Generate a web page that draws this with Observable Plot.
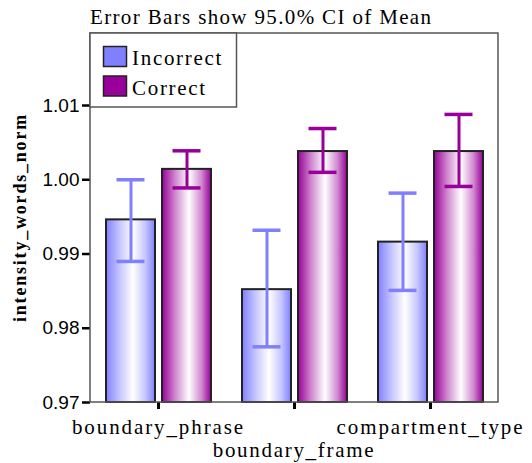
<!DOCTYPE html>
<html><head><meta charset="utf-8">
<script src="https://cdn.jsdelivr.net/npm/d3@7"></script>
<script src="https://cdn.jsdelivr.net/npm/@observablehq/plot@0.6"></script>
<style>
body{margin:0;background:#fff;}
#wrap{width:532px;height:463px;overflow:hidden;}
</style></head><body><div id="wrap"></div>
<script>
const categories = ["boundary_phrase", "compartment_phrase", "compartment_type"];
const tickLabels = ["boundary_phrase", "", "compartment_type"];
const series = ["Incorrect", "Correct"];
const seriesColors = ["#8080ff", "#990099"];
const incorrectMean = [0.9946, 0.9852, 0.9916];
const incorrectLow  = [0.9890, 0.9775, 0.9851];
const incorrectHigh = [1.0000, 0.9932, 0.9982];
const correctMean   = [1.0014, 1.0038, 1.0038];
const correctLow    = [0.9989, 1.0010, 0.9991];
const correctHigh   = [1.0039, 1.0069, 1.0088];
const yTicks = [0.97, 0.98, 0.99, 1.00, 1.01];
const yDomain = [0.97, 1.0197];
const titleText = "Error Bars show 95.0% CI of Mean";
const xTitle = "boundary_frame";
const yTitle = "intensity_words_norm";

const serif = '"Liberation Serif", "Times New Roman", serif';

const data = [];
categories.forEach((c, i) => {
  data.push({category: c, series: "Incorrect", mean: incorrectMean[i], lo: incorrectLow[i], hi: incorrectHigh[i]});
  data.push({category: c, series: "Correct", mean: correctMean[i], lo: correctLow[i], hi: correctHigh[i]});
});
const gradId = s => "grad-" + s;

const plot = Plot.plot({
  width: 532, height: 463,
  marginLeft: 90, marginRight: 34, marginTop: 33, marginBottom: 61,
  style: {background: "white", fontFamily: serif, fontSize: "21px", color: "black", overflow: "visible"},
  fx: {domain: categories, padding: 0},
  x: {domain: series, axis: null, paddingInner: 0.133, paddingOuter: 0.27},
  y: {domain: yDomain},
  color: {domain: series, range: seriesColors},
  marks: [
    ...series.map(s => Plot.barY(data.filter(d => d.series === s), {
      fx: "category", x: "series", y1: yDomain[0], y2: "mean",
      fill: `url(#${gradId(s)})`, stroke: "#222", strokeWidth: 2
    })),
    Plot.ruleX(data, {fx: "category", x: "series", y1: "lo", y2: "hi", stroke: "series", strokeWidth: 3}),
    Plot.tickY(data, {fx: "category", x: "series", y: "hi", stroke: "series", strokeWidth: 3.5, insetLeft: 10.5, insetRight: 10.5}),
    Plot.tickY(data, {fx: "category", x: "series", y: "lo", stroke: "series", strokeWidth: 3.5, insetLeft: 10.5, insetRight: 10.5}),
    Plot.axisY({ticks: yTicks, tickFormat: d3.format(".2f"), tickSize: 8, tickPadding: 3, strokeWidth: 2.5, stroke: "black",
      fontFamily: '"Liberation Sans", Arial, sans-serif', fontSize: 19, label: null}),
    Plot.axisFx({anchor: "bottom", tickSize: 7, tickPadding: 10, strokeWidth: 3, stroke: "black", label: null,
      fontFamily: serif, fontSize: 21,
      tickFormat: d => tickLabels[categories.indexOf(d)]})
  ]
});

const svg = d3.select(plot);
const defs = svg.insert("defs", ":first-child");
series.forEach((s, i) => {
  const c = seriesColors[i];
  const mid = d3.interpolateRgb(c, "#ffffff")(0.55);
  const g = defs.append("linearGradient").attr("id", gradId(s)).attr("x1", 0).attr("x2", 1).attr("y1", 0).attr("y2", 0);
  [[0, c], [0.28, mid], [0.55, "#ffffff"], [0.8, mid], [1, c]].forEach(([o, col]) =>
    g.append("stop").attr("offset", o).attr("stop-color", col));
});

// widen the category tick labels like the reference's bitmap font
svg.selectAll("text").filter(function() { return tickLabels.includes(this.textContent) && this.textContent !== ""; })
  .style("letter-spacing", "1.9px");

const fxRange = plot.scale("fx").range;
const yRange = plot.scale("y").range;
const pLeft = Math.min(...fxRange), pRight = Math.max(...fxRange);
const pTop = Math.min(...yRange), pBottom = Math.max(...yRange);

svg.append("rect").attr("x", pLeft).attr("y", pTop).attr("width", pRight - pLeft).attr("height", pBottom - pTop)
  .attr("fill", "none").attr("stroke", "#555").attr("stroke-width", 1.5);

const addText = (x, y, str, anchor, size, spacing, weight) =>
  svg.append("text").attr("x", x).attr("y", y).attr("text-anchor", anchor).text(str)
    .style("font-family", serif).style("font-size", size + "px").style("letter-spacing", spacing + "px")
    .style("font-weight", weight || "normal").attr("fill", "black");

addText(pLeft, 24, titleText, "start", 21, 1.35);
addText((pLeft + pRight) / 2, 457, xTitle, "middle", 21, 1.7);
addText(0, 0, yTitle, "middle", 18, 1.8, "bold")
  .attr("transform", `translate(26,${(pTop + pBottom) / 2}) rotate(-90)`);

const lg = svg.append("g");
lg.append("rect").attr("x", pLeft).attr("y", pTop).attr("width", 146.5).attr("height", 74)
  .attr("fill", "white").attr("stroke", "#555").attr("stroke-width", 1.5);
series.forEach((s, i) => {
  lg.append("rect").attr("x", 103.5).attr("y", 46.5 + i * 29.5).attr("width", 23).attr("height", 20)
    .attr("fill", seriesColors[i]).attr("stroke", "#222").attr("stroke-width", 1.5);
});
series.forEach((s, i) => addText(132, 64.5 + i * 30.5, s, "start", 21, 1.7));

document.getElementById("wrap").appendChild(plot);
</script>
</body></html>
